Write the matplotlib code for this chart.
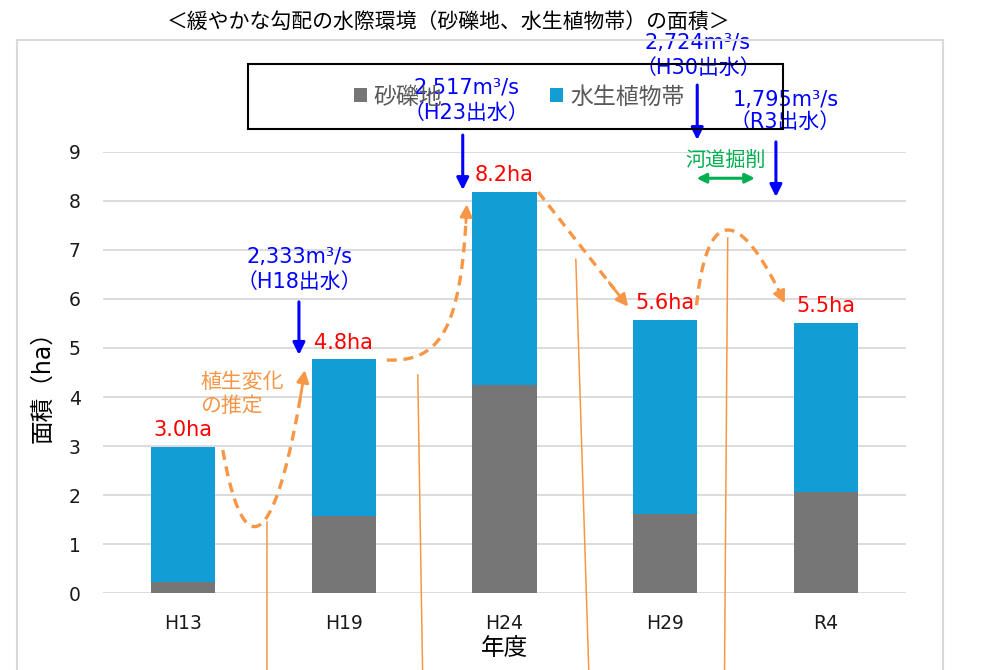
import numpy as np
import matplotlib.pyplot as plt
from matplotlib.patches import Rectangle

plt.rcParams['font.family'] = ['DejaVu Sans', 'Noto Sans CJK JP']

# --- data ---
years = ['H13', 'H19', 'H24', 'H29', 'R4']
gravel = [0.22, 1.58, 4.24, 1.62, 2.06]
vegetation = [2.76, 3.19, 3.94, 3.96, 3.45]
total_labels = ['3.0ha', '4.8ha', '8.2ha', '5.6ha', '5.5ha']

flood_q = ['2,333m³/s', '2,517m³/s', '2,724m³/s', '1,795m³/s']
flood_name = ['（H18出水）', '（H23出水）', '（H30出水）', '（R3出水）']
flood_x = [0.72, 1.74, 3.20, 3.69]
flood_text_x = [0.725, 1.763, 3.204, 3.75]
flood_text_y = [6.86, 10.30, 11.22, 10.05]
flood_gap = [0.51, 0.51, 0.52, 0.44]
flood_arrow_top = [5.94, 9.34, 10.36, 9.20]
flood_arrow_bottom = [4.86, 8.22, 9.24, 8.08]

GRAY = '#767676'
BLUE = '#129ED5'
ORANGE = '#F79646'
GREEN = '#00B050'


def bezier(p0, p1, p2, p3, n=80):
    t = np.linspace(0, 1, n)[:, None]
    p0, p1, p2, p3 = map(np.array, (p0, p1, p2, p3))
    pts = (1 - t) ** 3 * p0 + 3 * (1 - t) ** 2 * t * p1 + 3 * (1 - t) * t ** 2 * p2 + t ** 3 * p3
    return pts[:, 0], pts[:, 1]


fig = plt.figure(figsize=(10, 6.7), dpi=100)
ax = fig.add_axes([0.103, 0.1145, 0.803, 0.659])

x = np.arange(len(years))
b1 = ax.bar(x, gravel, width=0.4, color=GRAY, label='砂礫地', zorder=3)
b2 = ax.bar(x, vegetation, width=0.4, bottom=gravel, color=BLUE, label='水生植物帯', zorder=3)

ax.set_xlim(-0.5, 4.5)
ax.set_ylim(0, 9)
ax.set_yticks(range(10))
ax.set_xticks(x)
ax.set_xticklabels(years)
ax.yaxis.grid(True, color='#d9d9d9', lw=1.3)
ax.set_axisbelow(True)
for s in ax.spines.values():
    s.set_visible(False)
ax.tick_params(axis='both', length=0, labelsize=13.5, colors='#1a1a1a')
ax.tick_params(axis='y', pad=16)
ax.tick_params(axis='x', pad=15)

# totals
totals = np.array(gravel) + np.array(vegetation)
for i, lbl in enumerate(total_labels):
    ax.annotate(lbl, xy=(i, totals[i]), xytext=(0, 12), textcoords='offset points',
                ha='center', va='center', color='red', fontsize=15, zorder=5)

# floods
for i in range(len(flood_q)):
    ax.text(flood_text_x[i], flood_text_y[i], flood_q[i], ha='center', va='center',
            color='blue', fontsize=15, zorder=6)
    ax.text(flood_text_x[i], flood_text_y[i] - flood_gap[i], flood_name[i], ha='center',
            va='center', color='blue', fontsize=15, zorder=6)
    ax.annotate('', xy=(flood_x[i], flood_arrow_bottom[i]), xytext=(flood_x[i], flood_arrow_top[i]),
                arrowprops=dict(arrowstyle='-|>', color='blue', lw=2.2, mutation_scale=18,
                                shrinkA=0, shrinkB=0), annotation_clip=False, zorder=6)

# orange thin lines
thin_lines = [((0.52, 1.45), (0.52, -1.6)),
              ((1.46, 4.45), (1.49, -1.6)),
              ((2.444, 6.81), (2.525, -1.6)),
              ((3.39, 7.24), (3.37, -1.6))]
for (x0, y0), (x1, y1) in thin_lines:
    ax.plot([x0, x1], [y0, y1], color=ORANGE, lw=1.1, clip_on=False, zorder=4)

# orange dashed curves
curves = [
    bezier((0.246, 2.92), (0.370, 0.62), (0.570, 0.62), (0.757, 4.55)),
    bezier((1.267, 4.755), (1.597, 4.71), (1.734, 5.36), (1.765, 7.93)),
    (np.linspace(2.21, 2.77, 20), np.linspace(8.18, 5.84, 20)),
    bezier((3.196, 5.87), (3.260, 7.91), (3.465, 7.91), (3.745, 5.91)),
]
for cx, cy in curves:
    ax.plot(cx[:-3], cy[:-3], color=ORANGE, lw=2.4, ls=(0, (3, 2)), clip_on=False, zorder=5)
    ax.annotate('', xy=(cx[-1], cy[-1]), xytext=(cx[-5], cy[-5]),
                arrowprops=dict(arrowstyle='-|>', color=ORANGE, lw=2.0, mutation_scale=18,
                                shrinkA=0, shrinkB=0), annotation_clip=False, zorder=5)

ax.text(0.107, 4.31, '植生変化', ha='left', va='center', color=ORANGE, fontsize=15)
ax.text(0.107, 3.82, 'の推定', ha='left', va='center', color=ORANGE, fontsize=15)

# river excavation
ax.text(3.376, 8.83, '河道掘削', ha='center', va='center', color=GREEN, fontsize=14.5)
ax.annotate('', xy=(3.559, 8.46), xytext=(3.196, 8.46),
            arrowprops=dict(arrowstyle='<|-|>', color=GREEN, lw=2.2, mutation_scale=14,
                            shrinkA=0, shrinkB=0), annotation_clip=False)

# labels and title
fig.text(0.042, 1 - 381 / 670, '面積（ha）', rotation=90, ha='center', va='center', fontsize=17)
fig.text(0.505, 1 - 648 / 670, '年度', ha='center', va='center', fontsize=17)
fig.text(0.449, 0.968, '＜緩やかな勾配の水際環境（砂礫地、水生植物帯）の面積＞',
         ha='center', va='center', fontsize=15)

# frames
fig.add_artist(Rectangle((0.0173, -0.05), 0.9254, 0.99, transform=fig.transFigure,
                         fill=False, ec='#d9d9d9', lw=1.5))
fig.add_artist(Rectangle((0.248, 0.8075), 0.535, 0.097, transform=fig.transFigure,
                         fill=False, ec='black', lw=1.5))

fig.legend(handles=[b1, b2], loc='center', bbox_to_anchor=(0.519, 1 - 97 / 670), ncol=2,
           frameon=False, fontsize=16.5, handlelength=0.57, handleheight=0.57,
           handletextpad=0.3, columnspacing=4.7, labelcolor='#595959')

plt.savefig('out.png', dpi=100)
